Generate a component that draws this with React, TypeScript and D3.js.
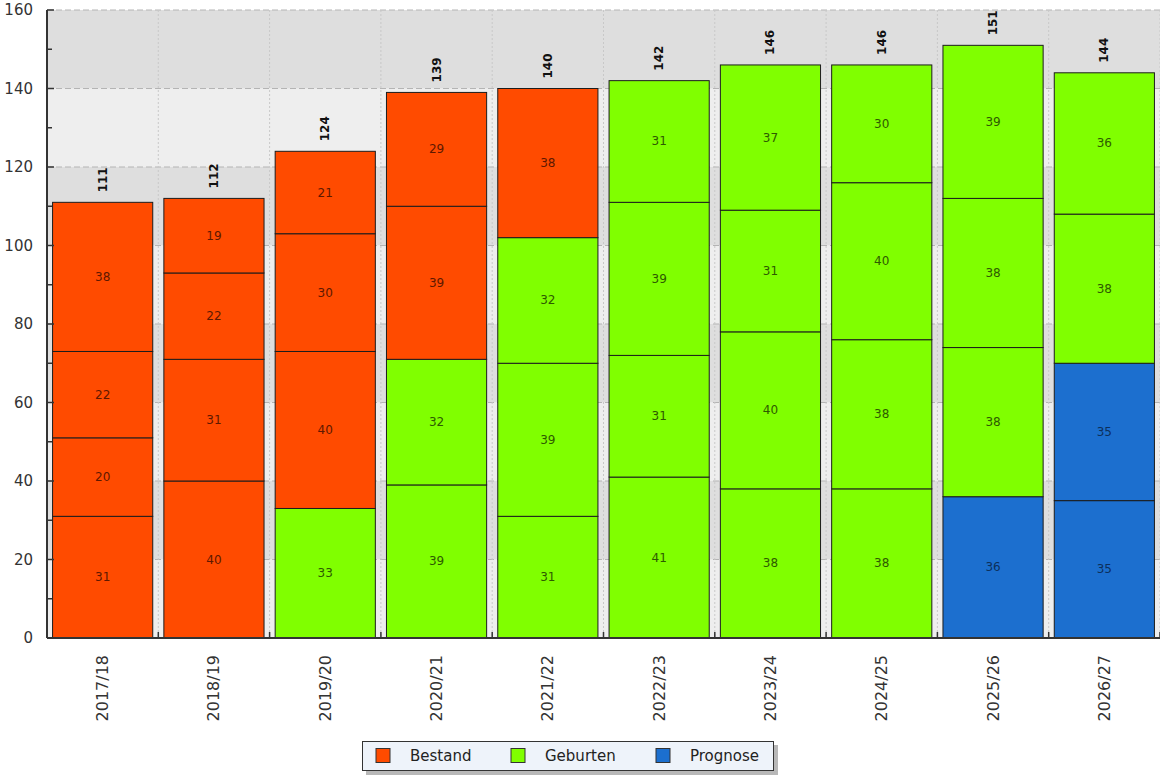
import * as d3 from "d3";

const categories = [
  "2017/18",
  "2018/19",
  "2019/20",
  "2020/21",
  "2021/22",
  "2022/23",
  "2023/24",
  "2024/25",
  "2025/26",
  "2026/27",
];

const seriesNames = ["Bestand", "Geburten", "Prognose"];
const seriesColors = ["#ff4b00", "#80ff00", "#1c6fcf"];
const seriesTextColors = ["#5e1800", "#2e5a00", "#0c2f5c"];

// stacked segments, bottom to top
const segmentValues = [
  [31, 20, 22, 38],
  [40, 31, 22, 19],
  [33, 40, 30, 21],
  [39, 32, 39, 29],
  [31, 39, 32, 38],
  [41, 31, 39, 31],
  [38, 40, 31, 37],
  [38, 38, 40, 30],
  [36, 38, 38, 39],
  [35, 35, 38, 36],
];

// 0 = Bestand, 1 = Geburten, 2 = Prognose
const segmentSeries = [
  [0, 0, 0, 0],
  [0, 0, 0, 0],
  [1, 0, 0, 0],
  [1, 1, 0, 0],
  [1, 1, 1, 0],
  [1, 1, 1, 1],
  [1, 1, 1, 1],
  [1, 1, 1, 1],
  [2, 1, 1, 1],
  [2, 2, 1, 1],
];

const yMajorTicks = [0, 20, 40, 60, 80, 100, 120, 140, 160];
const yMinorTicks = [10, 30, 50, 70, 90, 110, 130, 150];

const width = 1160;
const height = 775;
const plot = { left: 47, right: 1160, top: 10, bottom: 638 };
const font = "'DejaVu Sans', Verdana, sans-serif";

export default function App() {
  const x = d3
    .scaleBand<string>()
    .domain(categories)
    .range([plot.left, plot.right])
    .paddingInner(0.1)
    .paddingOuter(0.05);

  const y = d3.scaleLinear().domain([0, 160]).range([plot.bottom, plot.top]);

  const step = x.step();
  const boundaries = d3.range(1, categories.length + 1).map((k) => plot.left + k * step);

  const bands = d3.range(0, 160, 20);

  const bars = categories.map((cat, i) => {
    const vals = segmentValues[i];
    const ends = d3.cumsum(vals);
    const segs = vals.map((v, j) => ({
      v,
      s: segmentSeries[i][j],
      y0: ends[j] - v,
      y1: ends[j],
    }));
    return { cat, segs, total: d3.sum(vals) };
  });

  const legendX = [376, 511, 656];

  return (
    <div style={{ position: "absolute", left: 0, top: 0 }}>
      <svg width={width} height={height} style={{ display: "block", background: "#fff" }}>
        {/* background bands */}
        {bands.map((b) => (
          <rect
            key={"band" + b}
            x={plot.left}
            y={y(b + 20)}
            width={plot.right - plot.left}
            height={y(b) - y(b + 20)}
            fill={(b / 20) % 2 === 1 ? "#dedede" : "#eeeeee"}
          />
        ))}

        {/* grid */}
        {yMajorTicks
          .filter((t) => t > 0)
          .map((t) => (
            <line
              key={"gy" + t}
              x1={plot.left}
              x2={plot.right}
              y1={y(t)}
              y2={y(t)}
              stroke="#b4b4b4"
              strokeDasharray="6,3"
            />
          ))}
        {boundaries.map((bx, k) => (
          <line
            key={"gx" + k}
            x1={bx}
            x2={bx}
            y1={plot.top}
            y2={plot.bottom}
            stroke="#c8c8c8"
            strokeDasharray="2,2"
          />
        ))}

        {/* bars */}
        {bars.map((b) => {
          const bx = x(b.cat)!;
          const bw = x.bandwidth();
          return (
            <g key={b.cat}>
              {b.segs.map((s, j) => (
                <rect
                  key={j}
                  x={bx}
                  y={y(s.y1)}
                  width={bw}
                  height={y(s.y0) - y(s.y1)}
                  fill={seriesColors[s.s]}
                  stroke="#1c1c1c"
                  strokeWidth={1}
                />
              ))}
              {b.segs.map((s, j) => (
                <text
                  key={"t" + j}
                  x={bx + bw / 2}
                  y={y((s.y0 + s.y1) / 2)}
                  textAnchor="middle"
                  dominantBaseline="central"
                  fontFamily={font}
                  fontSize={12}
                  fill={seriesTextColors[s.s]}
                >
                  {s.v}
                </text>
              ))}
              <text
                transform={`translate(${bx + bw / 2},${y(b.total) - 10}) rotate(-90)`}
                textAnchor="start"
                dominantBaseline="central"
                fontFamily={font}
                fontSize={12}
                fontWeight="bold"
                fill="#111"
              >
                {b.total}
              </text>
              <text
                transform={`translate(${bx + bw / 2},${plot.bottom + 17}) rotate(-90)`}
                textAnchor="end"
                dominantBaseline="central"
                fontFamily={font}
                fontSize={16}
                fill="#333"
              >
                {b.cat}
              </text>
            </g>
          );
        })}

        {/* axes */}
        <line x1={plot.left} x2={plot.left} y1={plot.top} y2={plot.bottom} stroke="#333" strokeWidth={2} />
        <line x1={plot.left} x2={plot.right} y1={plot.bottom} y2={plot.bottom} stroke="#333" strokeWidth={2} />
        {yMajorTicks.map((t) => (
          <g key={"yt" + t}>
            <line x1={plot.left} x2={plot.left + 7} y1={y(t)} y2={y(t)} stroke="#333" strokeWidth={1.5} />
            <text
              x={33}
              y={y(t)}
              textAnchor="end"
              dominantBaseline="central"
              fontFamily={font}
              fontSize={15}
              fill="#333"
            >
              {t}
            </text>
          </g>
        ))}
        {yMinorTicks.map((t) => (
          <line key={"ym" + t} x1={plot.left} x2={plot.left + 5} y1={y(t)} y2={y(t)} stroke="#333" strokeWidth={1.5} />
        ))}
        {boundaries.map((bx, k) => (
          <line key={"xt" + k} x1={bx} x2={bx} y1={plot.bottom} y2={plot.bottom - 6} stroke="#333" strokeWidth={1.5} />
        ))}

        {/* legend */}
        <rect x={366} y={745} width={412} height={30} fill="#9a9a9a" opacity={0.7} />
        <rect x={362.5} y={741.5} width={411} height={29} fill="#eef3fa" stroke="#333" />
        {seriesNames.map((name, i) => (
          <g key={name}>
            <rect
              x={legendX[i]}
              y={748.5}
              width={14}
              height={14}
              fill={seriesColors[i]}
              stroke="#333"
            />
            <text
              x={legendX[i] + 34}
              y={756}
              dominantBaseline="central"
              fontFamily={font}
              fontSize={15}
              fill="#222"
            >
              {name}
            </text>
          </g>
        ))}
      </svg>
    </div>
  );
}
